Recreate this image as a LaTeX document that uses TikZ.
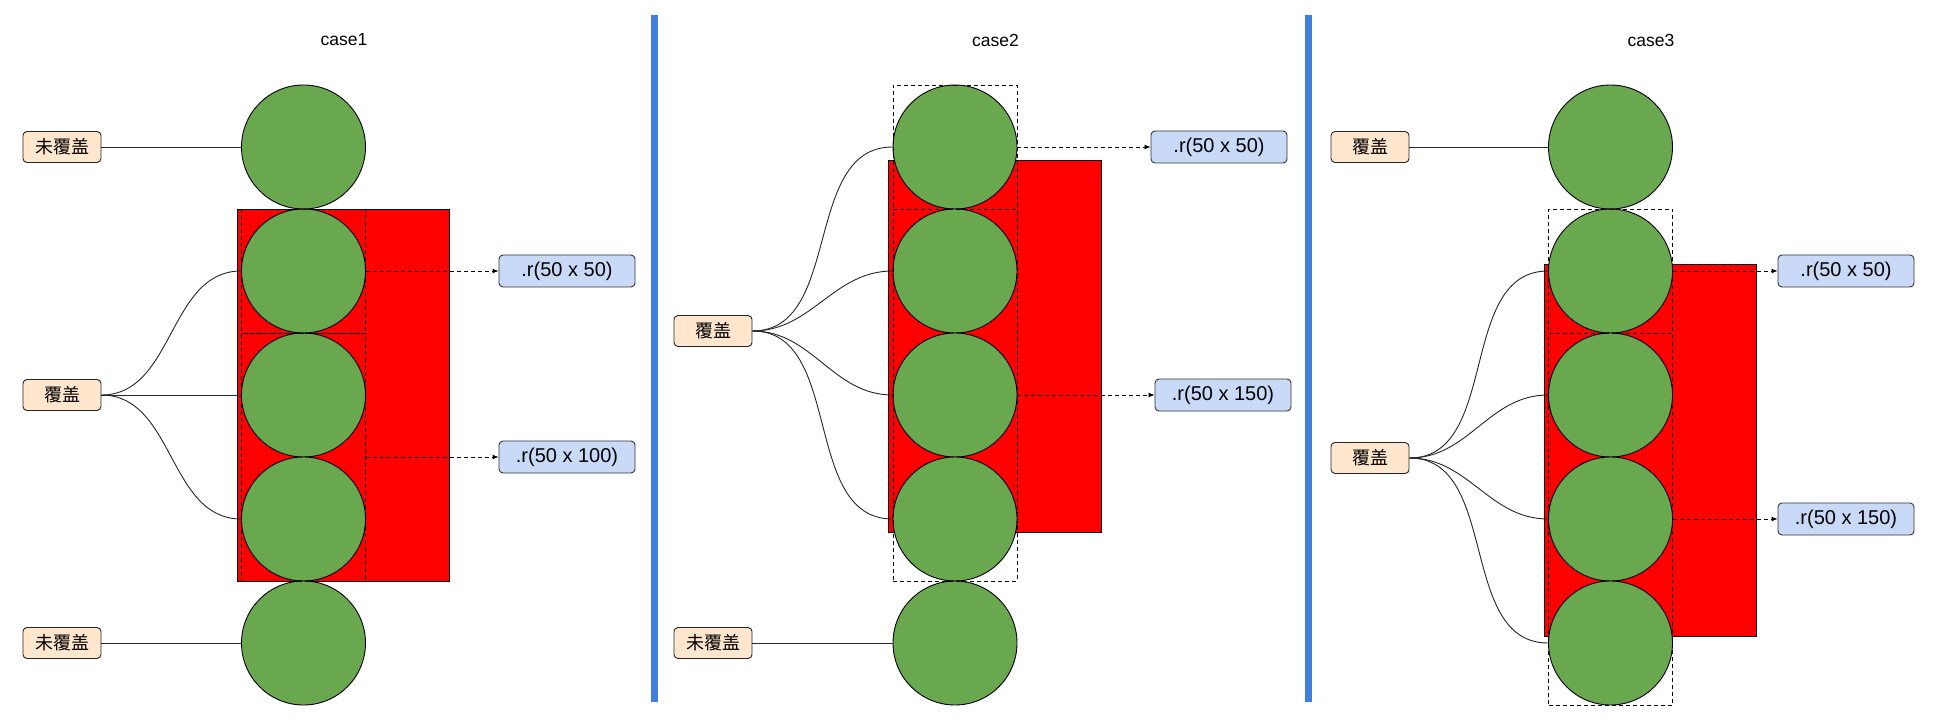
\documentclass[tikz,border=0pt]{standalone}
\usepackage{fontspec}
\setmainfont{Liberation Sans}
\newfontfamily\cjk{Noto Sans CJK SC}
\usetikzlibrary{arrows.meta}
\definecolor{ballgreen}{RGB}{106,168,79}
\definecolor{boxred}{RGB}{255,0,0}
\definecolor{tagorange}{RGB}{255,230,204}
\definecolor{tagblue}{RGB}{201,218,248}
\definecolor{sepblue}{RGB}{66,127,221}
\tikzset{
  ball/.style={circle,draw=black,line width=0.9pt,fill=ballgreen,minimum size=124pt,inner sep=0pt},
  redbox/.style={rectangle,draw=black,line width=0.9pt,fill=boxred,minimum width=212.5pt,minimum height=372pt,inner sep=0pt},
  dashbox/.style={rectangle,draw=black,dash pattern=on 4pt off 3pt,line width=0.9pt,minimum width=124pt,inner sep=0pt},
  cjktag/.style={rectangle,rounded corners=4pt,draw=black!85,line width=0.9pt,fill=tagorange,minimum width=78pt,minimum height=31pt,inner sep=0pt,font=\cjk\fontsize{18}{22}\selectfont},
  sizetag/.style={rectangle,rounded corners=4pt,draw=black!80,line width=0.9pt,fill=tagblue,minimum width=136pt,minimum height=32pt,inner sep=0pt,font=\fontsize{20}{24}\selectfont},
  casetitle/.style={font=\fontsize{17.5}{20}\selectfont,inner sep=0pt},
  link/.style={line width=0.9pt,draw=black!85},
  dasharrow/.style={line width=0.9pt,dash pattern=on 4pt off 3pt,-{Latex[length=6pt,width=5pt]}},
  sep/.style={line width=6.5pt,draw=sepblue}
}
\begin{document}
\begin{tikzpicture}[x=1pt,y=-1pt]
\useasboundingbox[fill=white] (0,0) rectangle (1939,727);
% separators
\coordinate (s1t) at (654.5,15); \coordinate (s1b) at (654.5,702);
\coordinate (s2t) at (1308.7,15); \coordinate (s2b) at (1308.7,702);
\draw[sep] (s1t) -- (s1b);
\draw[sep] (s2t) -- (s2b);
% titles
\node[casetitle] (t1) at (344,40) {case1};
\node[casetitle] (t2) at (995.5,40) {case2};
\node[casetitle] (t3) at (1651,40) {case3};

% ================= case 1 =================
\node[redbox] (r1) at (343.25,395) {};
\node[ball] (a1) at (303.5,147) {};
\node[ball] (a2) at (303.5,271) {};
\node[ball] (a3) at (303.5,395) {};
\node[ball] (a4) at (303.5,519) {};
\node[ball] (a5) at (303.5,643) {};
\node[dashbox,minimum height=124pt] (da) at (303.5,271) {};
\node[dashbox,minimum height=248pt] (db) at (303.5,457) {};
\node[cjktag] (k1) at (62,147) {未覆盖};
\node[cjktag] (k2) at (62,395) {覆盖};
\node[cjktag] (k3) at (62,643) {未覆盖};
\node[sizetag] (z1) at (567,271) {.r(50 x 50)};
\node[sizetag] (z2) at (567,457) {.r(50 x 100)};
\draw[link] (k1.east) -- (a1.west);
\draw[link] (k2.east) to[out=0,in=180] (a2.west);
\draw[link] (k2.east) -- (a3.west);
\draw[link] (k2.east) to[out=0,in=180] (a4.west);
\draw[link] (k3.east) -- (a5.west);
\draw[dasharrow] (da.east) -- (z1.west);
\draw[dasharrow] (db.east) -- (z2.west);

% ================= case 2 =================
\node[redbox] (r2) at (994.75,346) {};
\node[ball] (b1) at (955,147) {};
\node[ball] (b2) at (955,271) {};
\node[ball] (b3) at (955,395) {};
\node[ball] (b4) at (955,519) {};
\node[ball] (b5) at (955,643) {};
\node[dashbox,minimum height=124pt] (ea) at (955,147) {};
\node[dashbox,minimum height=372pt] (eb) at (955,395) {};
\node[cjktag] (m1) at (713,331) {覆盖};
\node[cjktag] (m2) at (713,643) {未覆盖};
\node[sizetag] (y1) at (1219,147) {.r(50 x 50)};
\node[sizetag] (y2) at (1223,395) {.r(50 x 150)};
\draw[link] (m1.east) to[out=0,in=180] (b1.west);
\draw[link] (m1.east) to[out=0,in=180] (b2.west);
\draw[link] (m1.east) to[out=0,in=180] (b3.west);
\draw[link] (m1.east) to[out=0,in=180] (b4.west);
\draw[link] (m2.east) -- (b5.west);
\draw[dasharrow] (ea.east) -- (y1.west);
\draw[dasharrow] (eb.east) -- (y2.west);

% ================= case 3 =================
\node[redbox] (r3) at (1650.25,450) {};
\node[ball] (c1) at (1610.5,147) {};
\node[ball] (c2) at (1610.5,271) {};
\node[ball] (c3) at (1610.5,395) {};
\node[ball] (c4) at (1610.5,519) {};
\node[ball] (c5) at (1610.5,643) {};
\node[dashbox,minimum height=124pt] (fa) at (1610.5,271) {};
\node[dashbox,minimum height=372pt] (fb) at (1610.5,519) {};
\node[cjktag] (n1) at (1370,147) {覆盖};
\node[cjktag] (n2) at (1370,458) {覆盖};
\node[sizetag] (x1) at (1846,271) {.r(50 x 50)};
\node[sizetag] (x2) at (1846,519) {.r(50 x 150)};
\draw[link] (n1.east) -- (c1.west);
\draw[link] (n2.east) to[out=0,in=180] (c2.west);
\draw[link] (n2.east) to[out=0,in=180] (c3.west);
\draw[link] (n2.east) to[out=0,in=180] (c4.west);
\draw[link] (n2.east) to[out=0,in=180] (c5.west);
\draw[dasharrow] (fa.east) -- (x1.west);
\draw[dasharrow] (fb.east) -- (x2.west);
\end{tikzpicture}
\end{document}
